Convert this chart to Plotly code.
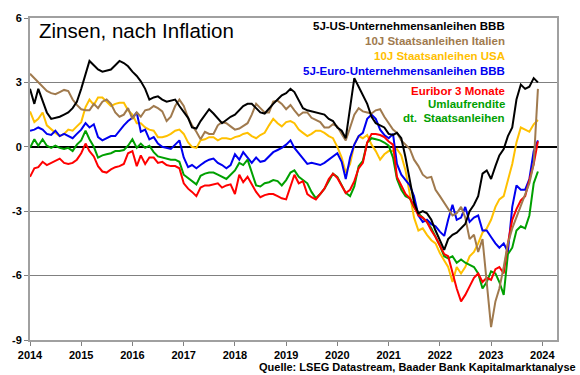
import pandas as pd
import plotly.graph_objects as go

# Monthly observations, Jan 2014 .. Dec 2023
dates = pd.date_range("2014-01-01", periods=120, freq="MS")

us_bbb = [2.7, 2.0, 2.7, 2.1, 1.6, 1.3, 1.35, 1.4, 1.5, 1.6, 1.8, 2.1,
          2.7, 3.4, 4.0, 3.8, 3.6, 3.5, 3.55, 3.6, 3.8, 4.0, 3.9, 3.75,
          3.5, 3.3, 3.05, 2.7, 2.2, 2.3, 2.35, 2.2, 2.1, 2.15, 2.2, 1.9,
          1.6, 1.35, 0.9, 0.85, 1.2, 1.5, 1.75, 1.55, 1.3, 1.1, 1.25, 1.4,
          1.5, 1.7, 1.9, 2.0, 2.0, 1.8, 1.6, 1.55, 1.8, 2.0, 2.2, 2.4,
          2.5, 2.7, 2.55, 2.2, 1.8, 1.7, 1.65, 1.6, 1.55, 1.5, 1.3, 1.2,
          0.9, 0.75, 0.4, 1.8, 3.2, 2.8, 2.4, 2.0, 1.4, 1.1, 1.0, 0.9,
          0.6, 0.55, 0.65, 0.4, -0.5, -1.6, -2.6, -3.1, -3.0, -3.1, -3.4, -3.9,
          -4.35, -4.8, -4.3, -4.1, -4.0, -3.8, -3.6, -3.0, -2.7, -2.3, -1.25, -1.1,
          -1.5, -0.9, -0.4, -0.1, 0.5, 0.9, 2.2, 2.9, 2.7, 2.8, 3.2, 3.0]

it_10y = [3.4, 3.2, 3.0, 2.8, 2.6, 2.5, 2.45, 2.55, 2.65, 2.6, 2.2, 1.95,
          1.75, 1.7, 1.7, 2.0, 1.8, 2.1, 2.2, 2.0, 1.6, 1.4, 1.5, 1.8,
          1.3, 1.6, 1.4, 1.7, 1.75, 1.9, 1.8, 1.65, 1.2, 1.4, 1.9, 2.2,
          1.9, 1.35, 1.0, 0.7, 0.35, 0.7, 0.6, 0.6, 1.0, 1.15, 1.1, 0.95,
          0.8, 0.85, 0.95, 1.1, 1.5, 2.0, 1.8, 1.6, 1.6, 2.1, 2.15, 2.0,
          1.75, 1.95, 1.7, 1.45, 1.6, 1.6, 1.35, 1.25, 1.15, 0.9, 0.9, 1.05,
          0.95, 0.6, 0.3, 0.9, 1.5, 1.8, 1.65, 1.6, 1.55, 1.7, 1.75, 1.4,
          1.1, 0.8, 0.65, 0.3, 0.1, -0.1, -0.6, -0.9, -1.3, -1.45, -1.4, -2.0,
          -2.3, -2.6, -2.85, -3.2, -3.1, -2.8, -3.3, -4.3, -4.1, -4.9, -4.3, -6.5,
          -8.4, -7.2, -6.6, -5.6, -4.5, -3.8, -3.3, -2.7, -2.2, -1.7, -0.8, 2.7]

us_10y = [1.65, 1.15, 1.3, 1.6, 1.0, 0.8, 0.65, 0.5, 0.6, 0.8, 0.75, 0.95,
          1.15, 1.85, 2.2, 1.95, 2.3, 2.3, 2.1, 1.9, 2.0, 2.05, 2.05, 1.7,
          1.5, 1.1, 1.1, 0.9, 0.8, 0.75, 0.45, 0.45, 0.5, 0.6, 0.75, 0.8,
          0.6, 0.2, 0.0, -0.05, 0.3, 0.35, 0.45, 0.45, 0.3, 0.4, 0.4, 0.35,
          0.45, 0.5, 0.6, 0.65, 0.5, 0.4, 0.55, 0.65, 1.0, 1.3, 1.1, 0.95,
          1.15, 1.2, 1.1, 0.8, 0.65, 0.5, 0.6, 0.75, 0.75, 0.65, 0.5, 0.4,
          0.0, -0.5, -1.2, -0.8, 0.1, 0.5, 0.4, 0.55, 0.1, -0.2, -0.6, -0.35,
          -0.2, -0.2, -0.1, -0.4, -1.1, -2.2, -3.3, -3.9, -3.8, -4.1, -4.35, -4.5,
          -4.95, -5.3, -5.6, -6.3, -5.6, -5.9, -5.6, -5.1, -4.9, -4.5, -4.0, -3.8,
          -3.4, -2.8, -2.45, -2.3, -1.6, -0.8, 0.2, 0.9, 0.8, 0.7, 1.05, 1.25]

eu_bbb = [0.75, 0.8, 0.9, 0.8, 0.6, 0.55, 0.75, 0.5, 0.6, 0.5, 0.4, 0.6,
          0.8, 1.1, 0.9, 1.05, 0.45, 0.3, 0.4, 0.5, 0.5, 0.75, 1.0, 1.2,
          1.35, 1.6, 0.7, 0.8, 0.35, 0.45, 0.15, 0.0, -0.05, -0.1, 0.1, 0.3,
          -0.5, -0.95, -0.85, -1.0, -0.85, -0.7, -0.6, -0.55, -0.75, -0.85, -1.0, -0.85,
          -0.35, -0.6, -0.25, -0.5, -0.75, -0.5, -0.7, -0.65, -0.45, -0.25, -0.15, -0.05,
          0.1, 0.3, -0.05, -0.3, -0.55, -0.8, -0.75, -0.8, -0.85, -0.75, -0.6, -0.45,
          -0.3, -0.7, -1.5, -0.5, 0.1, 0.5, 0.65, 1.3, 1.5, 1.3, 0.8, 0.55,
          0.4, 0.6, -0.8, -1.3, -1.55, -1.8, -2.3, -3.2, -3.5, -3.4, -3.6, -3.7,
          -3.95, -4.15, -3.4, -2.7, -3.4, -3.3, -2.8, -3.5, -3.3, -3.2, -3.9, -3.9,
          -4.2, -4.5, -4.7, -4.5, -4.9, -2.8, -1.8, -2.0, -2.0, -1.5, -0.2, 0.3]

euribor = [-1.4, -1.0, -0.95, -0.7, -0.85, -0.75, -0.65, -0.55, -0.75, -0.8, -0.75, -0.6,
           -0.3, 0.15, -0.2, -0.45, -0.9, -1.15, -1.2, -1.05, -0.95, -0.9, -0.8, -0.3,
           -0.2, -0.9, -0.4, -0.8, -0.5, -0.5, -0.75, -0.7, -0.85, -0.9, -0.9, -1.0,
           -1.7, -1.95, -2.1, -2.3, -1.9, -1.8, -1.8, -1.75, -1.7, -1.9, -1.8, -1.75,
           -2.2, -1.3, -1.65, -1.4, -1.75, -2.1, -2.35, -2.25, -2.2, -2.2, -2.3, -2.4,
           -2.45, -1.8, -1.3, -1.7, -1.6, -2.2, -2.35, -2.45, -2.2, -1.95, -1.5, -1.25,
           -1.45, -1.85, -2.15, -2.0, -1.6, -1.0, -0.75, 0.2, 0.6, 0.6, 0.55, 0.45,
           0.25, 0.1, -1.4, -1.8, -2.2, -2.4, -2.8, -3.2, -3.3, -3.5, -3.9, -4.2,
           -4.6, -5.0, -5.1, -5.9, -6.6, -7.2, -6.9, -6.5, -6.1, -5.9, -6.3, -6.1,
           -6.2, -5.7, -5.6, -5.9, -4.5, -3.4, -2.9, -2.5, -2.3, -1.55, -0.8, 0.25]

umlauf = [-0.05, 0.35, 0.05, 0.35, 0.05, -0.05, 0.05, -0.05, -0.1, -0.05, -0.2, 0.1,
          0.3, 0.75, 0.35, 0.0, -0.5, -0.4, -0.35, -0.3, -0.2, -0.2, -0.15, 0.05,
          0.35, -0.05, 0.15, -0.05, 0.05, -0.25, -0.45, -0.5, -0.55, -0.6, -0.6, -0.7,
          -1.3, -1.45, -1.6, -1.75, -1.35, -1.25, -1.2, -1.2, -1.3, -1.4, -1.5, -1.3,
          -1.1, -0.75, -0.85, -0.6, -1.2, -1.8, -1.85, -1.7, -1.65, -1.55, -1.6, -1.8,
          -1.55, -1.2, -1.1, -1.4, -1.55, -1.7, -2.1, -2.4, -2.2, -1.95, -1.6, -1.25,
          -1.4, -1.8, -2.15, -2.3, -1.85, -0.9, -0.65, 0.2, 0.4, 0.35, 0.3, 0.2,
          0.05, -0.5, -1.5, -2.0, -2.3, -2.4, -2.8, -3.1, -3.3, -3.5, -3.8, -4.2,
          -4.6, -5.1, -5.2, -5.1, -5.4, -5.25, -5.4, -5.5, -5.6, -5.9, -6.6, -6.3,
          -5.8, -5.9, -6.3, -6.9, -5.0, -4.7, -3.9, -3.7, -3.8, -3.2, -1.7, -1.15]

year_ticks = ["2014", "2015", "2016", "2017", "2018", "2019", "2020", "2021", "2022", "2023", "2024"]
y_ticks = [-9, -6, -3, 0, 3, 6]

FONT = "Liberation Sans, Arial, sans-serif"
BLACK = "#000000"
BROWN = "#A07A4E"
GOLD = "#FFC000"
BLUE = "#0000F0"
RED = "#FF0000"
GREEN = "#00A000"

fig = go.Figure()
series = [
    (us_10y, GOLD, "10J Staatsanleihen USA"),
    (eu_bbb, BLUE, "5J-Euro-Unternehmensanleihen BBB"),
    (umlauf, GREEN, "Umlaufrendite dt. Staatsanleihen"),
    (euribor, RED, "Euribor 3 Monate"),
    (it_10y, BROWN, "10J Staatsanleihen Italien"),
    (us_bbb, BLACK, "5J-US-Unternehmensanleihen BBB"),
]
for vals, col, name in series:
    fig.add_trace(go.Scatter(x=dates, y=vals, mode="lines", name=name,
                             line=dict(color=col, width=2), showlegend=False,
                             hoverinfo="skip"))

fig.update_layout(
    width=580, height=375,
    margin=dict(l=30, r=23, t=16, b=35),
    paper_bgcolor="white", plot_bgcolor="white",
    font=dict(family=FONT, size=11, color="black"),
)
fig.update_xaxes(
    type="date",
    range=["2014-01-01", "2024-04-15"],
    tickmode="array",
    tickvals=[f"{y}-01-01" for y in year_ticks],
    ticktext=year_ticks,
    tickfont=dict(family=FONT, size=11, color="black", weight="bold"),
    ticks="outside", ticklen=4, tickcolor="#808080",
    showgrid=False, showline=True, linecolor="#A0A0A0", linewidth=1.5, mirror=True,
)
fig.update_yaxes(
    range=[-9, 6],
    tickmode="array", tickvals=y_ticks, ticktext=[str(v) for v in y_ticks],
    tickfont=dict(family=FONT, size=11, color="black", weight="bold"),
    ticks="outside", ticklen=4, tickcolor="#808080",
    showgrid=True, gridcolor="#808080", gridwidth=1,
    zeroline=True, zerolinecolor="black", zerolinewidth=2,
    showline=True, linecolor="#A0A0A0", linewidth=2, mirror=True,
)

def px_y(py):
    return (340 - py) / 324.0

def px_x(px):
    return (px - 30) / 527.0

fig.add_annotation(text="Zinsen, nach Inflation", xref="paper", yref="paper",
                   x=px_x(37), y=px_y(29), xanchor="left", yanchor="middle",
                   showarrow=False, font=dict(family=FONT, size=20.5, color="black"))

labels = [
    ("5J-US-Unternehmensanleihen BBB", BLACK, 24),
    ("10J Staatsanleihen Italien", BROWN, 39),
    ("10J Staatsanleihen USA", GOLD, 54),
    ("5J-Euro-Unternehmensanleihen BBB", BLUE, 69),
    ("Euribor 3 Monate", RED, 89),
    ("Umlaufrendite", GREEN, 103),
    ("dt.  Staatsanleihen", GREEN, 117),
]
for txt, col, py in labels:
    fig.add_annotation(text=f"<b>{txt}</b>", xref="paper", yref="paper",
                       x=px_x(507), y=px_y(py), xanchor="right", yanchor="middle",
                       showarrow=False, font=dict(family=FONT, size=11.5, color=col))

fig.add_annotation(text="<b>Quelle: LSEG Datastream, Baader Bank Kapitalmarktanalyse</b>",
                   xref="paper", yref="paper", x=px_x(578), y=px_y(367),
                   xanchor="right", yanchor="middle", showarrow=False,
                   font=dict(family=FONT, size=11, color="black"))

# remove the default page margin so the figure sits at the window's top-left corner
fig.write_html("out.html", config={"displayModeBar": False},
               post_script="document.body.style.margin='0';document.body.style.overflow='hidden';")
